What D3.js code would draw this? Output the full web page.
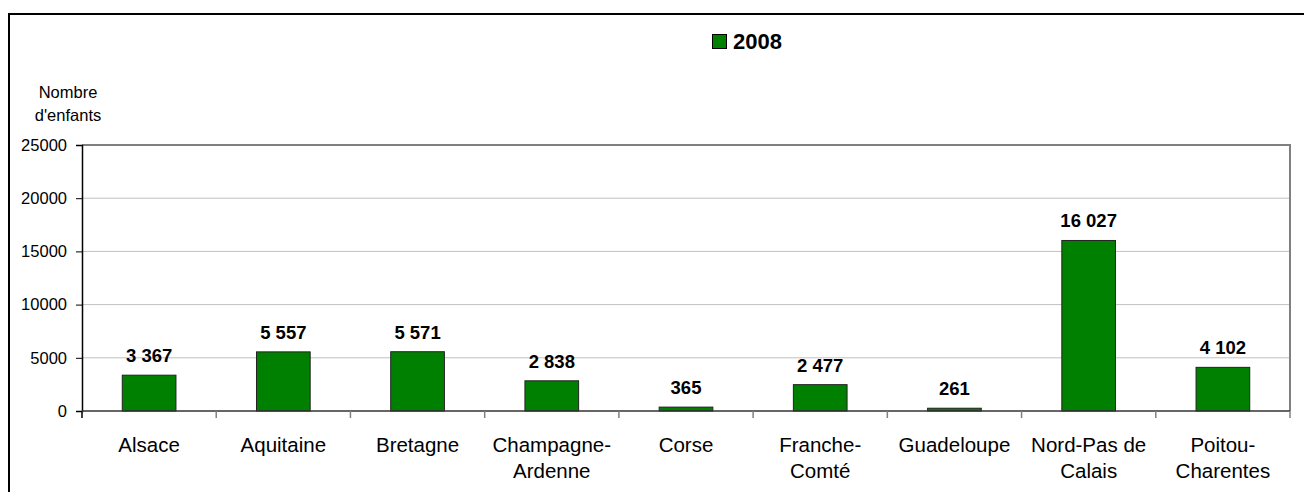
<!DOCTYPE html>
<html>
<head>
<meta charset="utf-8">
<script src="https://cdn.jsdelivr.net/npm/d3@7"></script>
<style>
  html, body { margin: 0; padding: 0; background: #fff; }
  svg { display: block; font-family: "Liberation Sans", Arial, sans-serif; }
</style>
</head>
<body>
<svg id="chart" width="1304" height="492"></svg>
<script>
const categories = [
  ["Alsace"], ["Aquitaine"], ["Bretagne"], ["Champagne-", "Ardenne"], ["Corse"],
  ["Franche-", "Comté"], ["Guadeloupe"], ["Nord-Pas de", "Calais"], ["Poitou-", "Charentes"]
];
const values2008 = [3367, 5557, 5571, 2838, 365, 2477, 261, 16027, 4102];
const valueLabels = ["3 367", "5 557", "5 571", "2 838", "365", "2 477", "261", "16 027", "4 102"];
const yTicks = [0, 5000, 10000, 15000, 20000, 25000];
const seriesName = "2008";
const yTitle = ["Nombre", "d'enfants"];

(function() {
const svg = d3.select("#chart");
const green = "#008000";
const pLeft = 82, pRight = 1290, pTop = 145, pBottom = 411;

// outer frame
svg.append("path")
  .attr("d", `M9,492 L9,14 L1304,14`)
  .attr("fill", "none").attr("stroke", "#000").attr("stroke-width", 2);

const keys = categories.map(c => c.join(" "));
const x = d3.scaleBand().domain(keys).range([pLeft, pRight]).paddingInner(0.6).paddingOuter(0.3);
const y = d3.scaleLinear().domain([0, 25000]).range([pBottom, pTop]);

// gridlines
svg.append("g").selectAll("line").data(yTicks.filter(t => t > 0 && t < 25000)).join("line")
  .attr("x1", pLeft).attr("x2", pRight)
  .attr("y1", d => y(d)).attr("y2", d => y(d))
  .attr("stroke", "#c0c0c0").attr("stroke-width", 1);

// plot border top and right
svg.append("path")
  .attr("d", `M${pLeft},${y(25000)} L${pRight},${y(25000)} L${pRight},${pBottom}`)
  .attr("fill", "none").attr("stroke", "#808080").attr("stroke-width", 2);

// bars
svg.append("g").selectAll("rect").data(values2008).join("rect")
  .attr("x", (d, i) => x(keys[i]))
  .attr("y", d => y(d))
  .attr("width", x.bandwidth())
  .attr("height", d => pBottom - y(d))
  .attr("fill", green)
  .attr("stroke", "#222").attr("stroke-width", 1);

// value labels
svg.append("g").selectAll("text").data(values2008).join("text")
  .attr("x", (d, i) => x(keys[i]) + x.bandwidth() / 2)
  .attr("y", d => y(d) - 13)
  .attr("text-anchor", "middle")
  .attr("font-size", 18.5).attr("font-weight", "bold").attr("fill", "#000")
  .text((d, i) => valueLabels[i]);

// y axis
const yAxis = d3.axisLeft(y).tickValues(yTicks).tickSize(6).tickPadding(9).tickFormat(d3.format("d"));
const gy = svg.append("g").attr("transform", `translate(${pLeft},0)`).call(yAxis);
gy.select(".domain").attr("stroke", "#000").attr("stroke-width", 1.5);
gy.selectAll(".tick line").attr("stroke", "#000");
gy.selectAll(".tick text").attr("font-size", 16.5).attr("font-family", "Liberation Sans, Arial, sans-serif").attr("fill", "#000");
svg.append("line").attr("x1", pLeft).attr("x2", pLeft).attr("y1", pBottom).attr("y2", pBottom + 7)
  .attr("stroke", "#000").attr("stroke-width", 1.5);

// x axis baseline
svg.append("line").attr("x1", pLeft).attr("x2", pRight).attr("y1", pBottom).attr("y2", pBottom)
  .attr("stroke", "#333").attr("stroke-width", 1.5);
// x ticks at category boundaries
const step = x.step();
const start = x(keys[0]) - x.paddingOuter() * step;
const boundaries = d3.range(1, keys.length + 1).map(i => start + i * step);
svg.append("g").selectAll("line").data(boundaries).join("line")
  .attr("x1", d => d).attr("x2", d => d)
  .attr("y1", pBottom).attr("y2", pBottom + 7)
  .attr("stroke", "#808080").attr("stroke-width", 1.5);

// category labels
const cl = svg.append("g").selectAll("text").data(categories).join("text")
  .attr("text-anchor", "middle")
  .attr("font-size", 20.5).attr("fill", "#000");
cl.each(function(lines, i) {
  const t = d3.select(this);
  lines.forEach((ln, j) => {
    t.append("tspan")
      .attr("x", x(keys[i]) + x.bandwidth() / 2)
      .attr("y", 452 + j * 26)
      .text(ln);
  });
});

// y title
svg.append("g").selectAll("text").data(yTitle).join("text")
  .attr("x", 68).attr("y", (d, i) => 98 + i * 23)
  .attr("text-anchor", "middle").attr("font-size", 16.5).attr("fill", "#000")
  .text(d => d);

// legend
svg.append("rect").attr("x", 712.5).attr("y", 34.5).attr("width", 14).attr("height", 14)
  .attr("fill", green).attr("stroke", "#000").attr("stroke-width", 1);
svg.append("text").attr("x", 733).attr("y", 49)
  .attr("font-size", 22).attr("font-weight", "bold").attr("fill", "#000")
  .text(seriesName);
})();
</script>
</body>
</html>
